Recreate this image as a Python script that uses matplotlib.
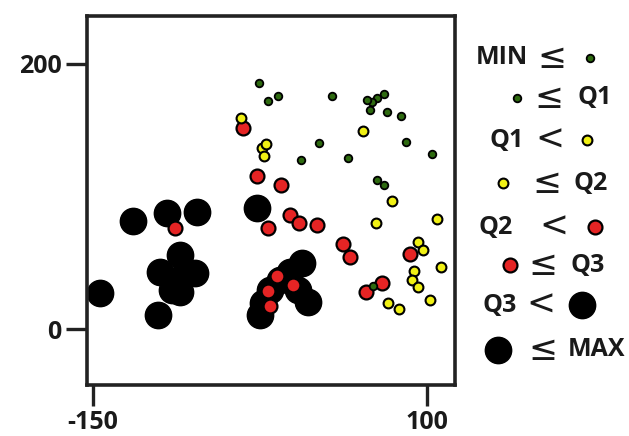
import matplotlib
matplotlib.use("Agg")
import matplotlib.pyplot as plt

# ---- data ----
black_x = [-119.7, -94.7, -72.3, -84.8, -99.7, -73.5, -87.2, -91.0, -84.8, -144.5, -101.0,
           -27.4, 6.2, -2.5, -10.0, -17.5, -22.5, -25.0, 11.1, 3.7]
black_y = [81.2, 87.5, 88.3, 56.1, 43.5, 42.3, 37.2, 29.7, 28.4, 27.6, 10.8,
           91.3, 49.8, 43.5, 37.2, 29.7, 19.6, 10.8, 20.8, 29.7]

red_x = [-88.5, -18.8, -37.4, -27.4, -9.3, -2.5, 4.4, 17.4, 37.3, 42.3, 87.1, 54.3, 66.0,
         -12.5, 0.0, -18.8, -17.5]
red_y = [76.2, 76.2, 151.7, 115.2, 108.4, 86.3, 80.0, 78.7, 64.4, 54.3, 56.8, 27.9, 34.7,
         40.2, 33.4, 29.1, 17.6]

yellow_x = [-39.2, 52.3, -23.7, -20.7, -21.7, 73.7, 61.7, 107.1, 93.3, 97.1, 110.1, 90.4,
            88.4, 92.9, 70.9, 78.9, 102.1]
yellow_y = [159.2, 149.1, 136.6, 139.8, 130.3, 96.8, 80.0, 83.2, 65.4, 59.8, 46.8, 44.0,
            37.2, 32.2, 19.6, 15.1, 22.1]

green_x = [-25.5, -18.8, -11.7, 29.1, 67.3, 62.3, 58.5, 54.8, 57.3, 70.2, 80.4, 18.9, 83.9,
           5.5, 40.8, 103.8, 62.3, 67.8, 59.3]
green_y = [185.7, 172.3, 175.5, 175.5, 177.6, 174.3, 171.0, 172.5, 165.5, 163.8, 160.5,
           140.4, 140.8, 127.2, 128.8, 132.1, 112.2, 108.4, 32.7]

x_ticks = [-150, 100]
y_ticks = [0, 200]

legend_rows = [("MIN", "≤", "green_dot"), ("green_dot", "≤", "Q1"),
               ("Q1", "<", "yellow_dot"), ("yellow_dot", "≤", "Q2"),
               ("Q2", "<", "red_dot"), ("red_dot", "≤", "Q3"),
               ("Q3", "<", "black_dot"), ("black_dot", "≤", "MAX")]

# ---- styling ----
W, H = 629, 436
fig = plt.figure(figsize=(W / 100, H / 100), dpi=100)
ax = fig.add_axes([86.7 / W, 1 - 385 / H, (455 - 86.7) / W, (385 - 16) / H])

styles = {
    "black_dot": dict(s=360, c="black", edgecolors="black", linewidths=1.0),
    "red_dot": dict(s=100, c="#e52424", edgecolors="black", linewidths=1.6),
    "yellow_dot": dict(s=50, c="#f0f014", edgecolors="black", linewidths=1.5),
    "green_dot": dict(s=30, c="#2e6a10", edgecolors="black", linewidths=1.3),
}

ax.scatter(black_x, black_y, zorder=2, **styles["black_dot"])
ax.scatter(red_x, red_y, zorder=3, **styles["red_dot"])
ax.scatter(yellow_x, yellow_y, zorder=4, **styles["yellow_dot"])
ax.scatter(green_x, green_y, zorder=5, **styles["green_dot"])

ax.set_xlim(-154.5, 120.7)
ax.set_ylim(-42, 236)
ax.set_xticks(x_ticks)
ax.set_yticks(y_ticks)
ax.set_xticklabels([str(v) for v in x_ticks])
ax.set_yticklabels([str(v) for v in y_ticks])

fam = ["Open Sans", "DejaVu Sans"]
font = dict(family=fam, fontweight="bold", fontsize=18, color="#1a1a1a")
for lab in ax.get_xticklabels() + ax.get_yticklabels():
    lab.set_fontfamily(fam)
    lab.set_fontweight("bold")
    lab.set_fontsize(18)
    lab.set_color("#1a1a1a")
ax.tick_params(axis="both", direction="out", length=15, width=2.4, color="#222222", pad=3)
for sp in ax.spines.values():
    sp.set_linewidth(2.6)
    sp.set_color("#222222")

# ---- legend drawn as text + markers in figure pixel coords ----
row_y = [58, 98, 140, 183, 227, 265, 305, 350]
row_pos = [(502, 552, 590), (517, 549, 595), (507, 550, 587), (503, 547, 591),
           (496, 554, 595), (510, 543, 588), (500, 541, 582), (498, 543, 597)]
sym_font = dict(family=["DejaVu Sans"], fontsize=25, color="#1a1a1a")
for (a, op, b), yy, (xa, xo, xb) in zip(legend_rows, row_y, row_pos):
    fy = 1 - yy / H
    for item, xx in ((a, xa), (b, xb)):
        if item in styles:
            ax.scatter([xx / W], [fy], transform=fig.transFigure, clip_on=False,
                       zorder=6, **styles[item])
        else:
            fig.text(xx / W, fy, item, ha="center", va="center", **font)
    fig.text(xo / W, fy, op, ha="center", va="center", **sym_font)

fig.savefig("out.png", dpi=100)
